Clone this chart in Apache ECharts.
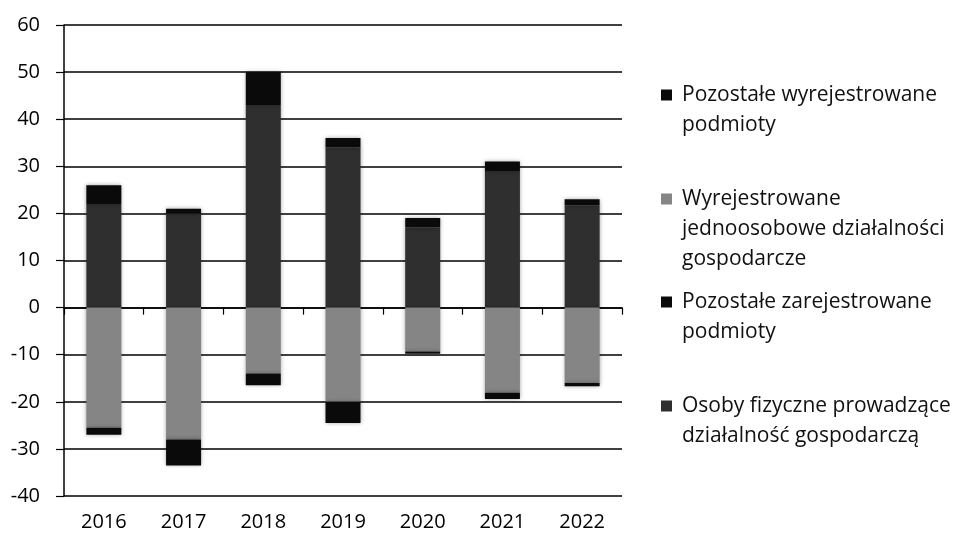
<!DOCTYPE html>
<html lang="pl">
<head>
	<meta charset="UTF-8">
	<title>Podmioty zarejestrowane i wyrejestrowane</title>
	<script src="https://cdn.jsdelivr.net/npm/echarts@6/dist/echarts.min.js"></script>
	<style>
		html, body { margin: 0; padding: 0; background: #fff; }
		#chart { width: 960px; height: 535px; }
	</style>
</head>
<body>
<div id="chart"></div>
<script>
// lata
const years = ['2016', '2017', '2018', '2019', '2020', '2021', '2022']
// wartosci dodatnie (rejestracje)
const osobyFizyczne = [22, 20, 43, 34, 17, 29, 21.7]
const pozostaleZarej = [4, 1, 7, 2, 2, 2, 1.3]
// wartosci ujemne (wyrejestrowania)
const wyrejJdg = [-25.5, -28, -14, -20, -9.3, -18.1, -16]
const pozostaleWyrej = [-1.5, -5.5, -2.5, -4.5, -0.5, -1.3, -0.7]

const names = {
	osoby: 'Osoby fizyczne prowadzące działalność gospodarczą',
	pozZarej: 'Pozostałe zarejestrowane podmioty',
	wyrejJdg: 'Wyrejestrowane jednoosobowe działalności gospodarcze',
	pozWyrej: 'Pozostałe wyrejestrowane podmioty'
}
// zawijanie tekstu legendy
const wrapped = {}
wrapped[names.pozWyrej] = ['Pozostałe wyrejestrowane', 'podmioty']
wrapped[names.wyrejJdg] = ['Wyrejestrowane', 'jednoosobowe działalności', 'gospodarcze']
wrapped[names.pozZarej] = ['Pozostałe zarejestrowane', 'podmioty']
wrapped[names.osoby] = ['Osoby fizyczne prowadzące', 'działalność gospodarczą']

const font = '"Open Sans", "Noto Sans", sans-serif'
const lh = 30

// puste linie na poczatku, zeby ikona stala przy pierwszej linii tekstu
function legendText(n) {
	const lines = wrapped[n]
	const pad = []
	for (let i = 1; i < lines.length; i++) pad.push(' ')
	return pad.concat(lines).join('\n')
}

function legendFor(name, top) {
	return {
		data: [name],
		left: 661,
		top: top,
		padding: 0,
		icon: 'rect',
		itemWidth: 11,
		itemHeight: 11,
		itemGap: 0,
		selectedMode: false,
		formatter: legendText,
		textStyle: {
			fontFamily: font,
			fontSize: 21,
			color: '#111',
			lineHeight: lh,
			padding: [0, 0, 0, 5]
		}
	}
}

function bar(name, data, color) {
	return {
		name: name,
		type: 'bar',
		stack: 'all',
		data: data,
		barWidth: 35,
		itemStyle: {
			color: color,
			shadowColor: 'rgba(0,0,0,0.35)',
			shadowBlur: 4
		}
	}
}

const chart = echarts.init(document.getElementById('chart'), null, { renderer: 'canvas' })
chart.setOption({
	animation: false,
	backgroundColor: '#fff',
	grid: { left: 64, right: 338, top: 25, bottom: 39 },
	legend: [
		legendFor(names.pozWyrej, 50),
		legendFor(names.wyrejJdg, 124),
		legendFor(names.pozZarej, 257),
		legendFor(names.osoby, 361)
	],
	xAxis: [{
		type: 'category',
		data: years,
		axisLine: { onZero: true, lineStyle: { color: '#000', width: 1.5 } },
		axisTick: { show: true, length: 7, lineStyle: { color: '#000', width: 1.2 } },
		axisLabel: { show: false }
	}, {
		type: 'category',
		data: years,
		position: 'bottom',
		axisLine: { show: false, onZero: false },
		axisTick: { show: false },
		axisLabel: { margin: 16, fontFamily: font, fontSize: 20, color: '#000' }
	}],
	yAxis: {
		type: 'value',
		min: -40,
		max: 60,
		interval: 10,
		axisLine: { show: true, lineStyle: { color: '#000', width: 1.5 } },
		axisTick: { show: true, length: 8, lineStyle: { color: '#000', width: 1.2 } },
		axisLabel: { margin: 24, fontFamily: font, fontSize: 20, color: '#000' },
		splitLine: { lineStyle: { color: '#000', width: 1.5 } }
	},
	series: [
		bar(names.osoby, osobyFizyczne, '#2f2f2f'),
		bar(names.pozZarej, pozostaleZarej, '#0a0a0a'),
		bar(names.wyrejJdg, wyrejJdg, '#858585'),
		bar(names.pozWyrej, pozostaleWyrej, '#0a0a0a')
	]
})
</script>
</body>
</html>
